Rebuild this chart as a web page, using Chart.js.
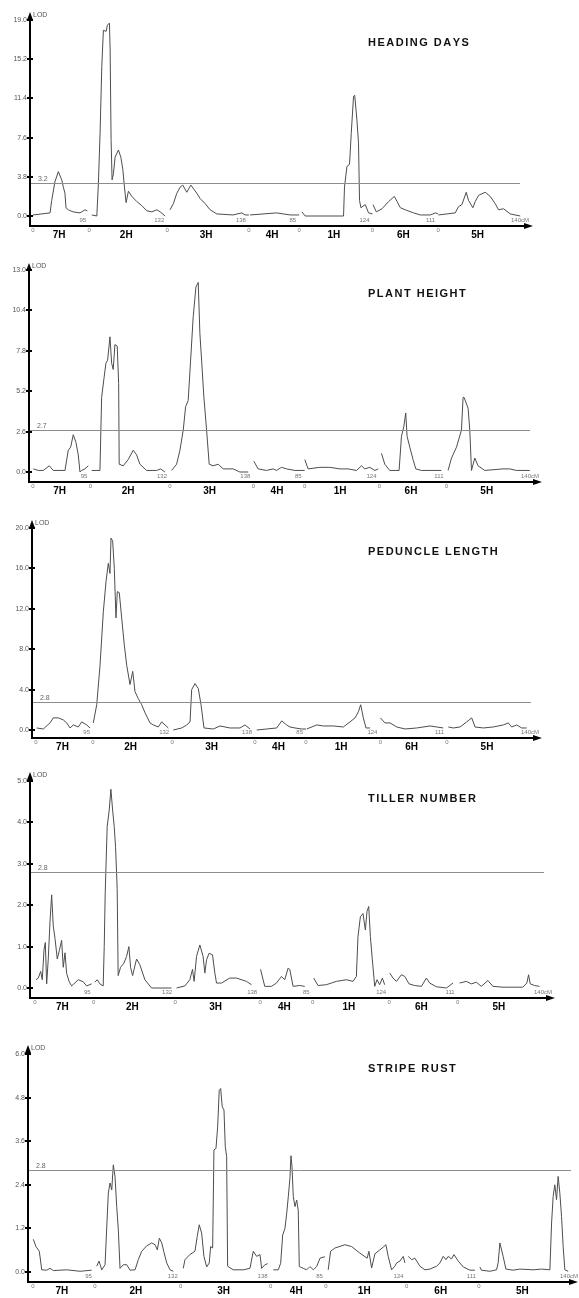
<!DOCTYPE html>
<html>
<head>
<meta charset="utf-8">
<title>QTL LOD profiles</title>
<script src="https://cdn.jsdelivr.net/npm/chart.js@4.4.0/dist/chart.umd.min.js"></script>
<style>
  html, body { margin: 0; padding: 0; background: #fff; }
  #wrap { position: relative; width: 579px; height: 1298px; overflow: hidden; }
  canvas { position: absolute; left: 0; }
</style>
</head>
<body>
<div id="wrap">
  <canvas id="c0" width="579" height="250" style="top:0px"></canvas>
  <canvas id="c1" width="579" height="255" style="top:250px"></canvas>
  <canvas id="c2" width="579" height="255" style="top:505px"></canvas>
  <canvas id="c3" width="579" height="270" style="top:760px"></canvas>
  <canvas id="c4" width="579" height="268" style="top:1030px"></canvas>
</div>
<script>
'use strict';

// linkage groups, in plotting order, and their lengths in cM
var chroms = ['7H', '2H', '3H', '4H', '1H', '6H', '5H'];
var chromLen = [95, 132, 138, 85, 124, 111, 140];
var endLabels = ['95', '132', '138', '85', '124', '111', '140cM'];

var traits = ['HEADING DAYS', 'PLANT HEIGHT', 'PEDUNCLE LENGTH', 'TILLER NUMBER', 'STRIPE RUST'];
var thresholds = [3.2, 2.7, 2.8, 2.8, 2.8];
var thresholdLabels = ['3.2', '2.7', '2.8', '2.8', '2.8'];

var yTicks = [
  [0, 3.8, 7.6, 11.4, 15.2, 19.0],
  [0, 2.6, 5.2, 7.8, 10.4, 13.0],
  [0, 4, 8, 12, 16, 20],
  [0, 1, 2, 3, 4, 5],
  [0, 1.2, 2.4, 3.6, 4.8, 6.0]
];
var yTickLabels = [
  ['0.0', '3.8', '7.6', '11.4', '15.2', '19.0'],
  ['0.0', '2.6', '5.2', '7.8', '10.4', '13.0'],
  ['0.0', '4.0', '8.0', '12.0', '16.0', '20.0'],
  ['0.0', '1.0', '2.0', '3.0', '4.0', '5.0'],
  ['0.0', '1.2', '2.4', '3.6', '4.8', '6.0']
];

// [cM, LOD] per linkage group (7H, 2H, 3H, 4H, 1H, 6H, 5H)
var headingDays = [
  [[0,0.1],[28.8,0.3],[31.6,1.5],[37,3.3],[42.8,4.3],[48.6,3.5],[51.3,2.8],[54,2.2],[55.8,0.8],[59.7,0.6],[67.7,0.4],[79.5,0.3],[88,0.6],[92,0.5]],
  [[4.4,0.1],[12.9,0.0],[15.6,3.2],[18.4,8.0],[21.3,14.5],[24,18.0],[28.6,17.9],[30.8,18.5],[34.2,18.7],[35.4,16.1],[37,7.4],[38.7,3.5],[41,4.1],[43.8,5.7],[49.4,6.4],[53.5,5.7],[56.9,4.5],[59.6,2.8],[62.4,1.3],[66.3,2.4],[72.1,1.9],[80.5,1.4],[89,1.0],[97.5,0.5],[105.9,0.4],[114.4,0.6],[120,0.4],[128.4,0.0]],
  [[4.7,0.6],[10.3,1.2],[16.1,2.2],[21.7,2.8],[26.2,3.0],[33,2.3],[39.8,3.0],[50,2.2],[55.5,1.7],[64,1.2],[72.4,0.6],[83.8,0.2],[111,0.1],[126,0.3],[131.6,0.1],[138,0.1]],
  [[2,0.1],[47,0.3],[58,0.2],[70,0.1],[85,0.1]],
  [[4.6,0.4],[10.2,0.0],[75,0.0],[76.6,2.8],[80.7,4.8],[85.1,5.0],[88,8.0],[91.9,11.6],[93.9,11.7],[97.6,9.3],[100.3,7.1],[102,1.5],[104.4,0.8],[111.7,1.1],[117.3,0.3],[124,0.2]],
  [[0.8,1.1],[6.4,0.4],[16,0.7],[27.2,1.4],[36.9,1.9],[41.5,1.4],[47,0.8],[55.5,0.6],[69.5,0.3],[80.9,0.1],[97.8,0.1],[106.3,0.3],[111,0.2]],
  [[0.5,0.1],[28.8,0.3],[34.3,0.9],[40.1,1.1],[47.4,2.3],[51.3,1.5],[58.7,0.8],[62.6,1.4],[68.2,2.0],[79.5,2.3],[88,1.9],[96.4,1.2],[102,0.6],[110.5,0.7],[121.8,0.2],[138.7,0.0]]
];

var plantHeight = [
  [[0.5,0.2],[8.8,0.1],[17,0.1],[27,0.4],[33.6,0.1],[53,0.1],[58.4,1.4],[62.4,1.6],[66.7,2.4],[71.2,1.9],[75,1.1],[77.8,0.0],[80.6,0.1],[86,0.2],[91.6,0.4]],
  [[2.2,0.1],[15.9,0.1],[18.7,4.8],[22.5,6.0],[25.8,7.0],[28.6,7.2],[32.5,8.7],[35.3,7.0],[37.9,6.6],[40.7,8.2],[44.5,8.1],[46.9,5.7],[47.8,0.5],[54.5,0.4],[62.7,0.8],[71,1.4],[76.7,1.1],[82.1,0.5],[93.2,0.1],[109.8,0.1],[116.4,0.2],[123.5,0.0]],
  [[2.6,0.1],[10.9,0.5],[16.4,1.4],[21.9,2.7],[25.8,4.2],[30.1,4.6],[34.1,7.2],[38.4,10.0],[42.9,11.9],[46.7,12.2],[49.5,8.9],[52.3,7.2],[56.1,4.8],[60.6,2.7],[64.9,0.5],[71.5,0.4],[79.8,0.5],[88,0.2],[104.6,0.2],[115.7,0.0],[129.5,0.0]],
  [[0.8,0.7],[7.9,0.2],[21.9,0.1],[32.8,0.2],[38.4,0.1],[46.7,0.3],[55,0.2],[68.7,0.1],[85,0.1]],
  [[0.3,0.8],[5.8,0.2],[25.2,0.3],[41.7,0.3],[58.3,0.2],[72,0.2],[85.9,0.1],[94.2,0.4],[99.7,0.2],[108,0.3],[116.2,0.1],[122,0.2]],
  [[3.3,1.2],[8.8,0.5],[17,0.1],[32.5,0.1],[36.4,2.3],[40.2,2.9],[43.5,3.8],[45.7,2.3],[50.2,1.6],[55.6,0.8],[60.1,0.2],[69.5,0.1],[102.6,0.1]],
  [[2.6,0.1],[8.3,0.9],[16.6,1.6],[24.8,2.7],[27.5,4.8],[29.1,4.8],[32,4.5],[35.8,4.1],[38.6,2.7],[41.4,0.1],[46.9,0.9],[52.3,0.4],[63.4,0.1],[93.7,0.2],[104.8,0.2],[115.9,0.1],[126.8,0.1],[138,0.1]]
];

var peduncleLength = [
  [[1.2,0.2],[12.2,0.1],[23.3,0.7],[28.8,1.2],[37.2,1.2],[45.5,1.0],[51.2,0.7],[56.7,0.2],[62.2,0.5],[70.5,0.3],[76.2,0.8],[84.5,0.5],[90,0.2]],
  [[0.5,0.7],[6.2,2.5],[11.7,6.4],[17.2,11.7],[21.7,14.7],[25.5,16.5],[28.3,15.5],[30,19.0],[32.8,18.7],[35.5,16.0],[38.3,11.1],[40.5,13.7],[43.8,13.6],[47.8,11.1],[52.2,8.4],[56.2,6.4],[61.7,4.5],[66.2,5.8],[70,3.8],[75.5,3.1],[81.2,2.5],[86.7,1.7],[95,0.7],[100.5,0.5],[108.8,0.3],[114.5,0.8],[120,0.5],[125.5,0.2]],
  [[1.8,0.0],[15.8,0.2],[24.2,0.5],[29.7,0.8],[32.5,4.0],[38,4.6],[43.5,4.1],[48,2.5],[53,0.2],[68.5,0.1],[79.7,0.4],[96.3,0.2],[113,0.2],[121.3,0.5],[129.7,0.1]],
  [[2.8,0.0],[19.5,0.1],[36.2,0.2],[44.5,0.9],[52.8,0.5],[58.3,0.3],[66.7,0.2],[77.8,0.1],[85,0.1]],
  [[1.2,0.1],[17.8,0.5],[28.8,0.4],[45.5,0.4],[62.2,0.3],[73.3,0.8],[81.7,1.2],[87.2,1.8],[91.2,2.5],[95.5,1.2],[100,0.2],[106.7,0.2]],
  [[0,1.2],[7.7,0.7],[16,0.7],[27.2,0.3],[41,0.1],[60.5,0.2],[82.7,0.4],[93.8,0.3],[104.8,0.2]],
  [[2.2,0.3],[10.5,0.2],[21.7,0.3],[32.8,0.8],[41.2,1.2],[46.7,0.3],[60.5,0.2],[77.2,0.3],[93.8,0.5],[102.2,0.7],[107.8,0.3],[116.2,0.5],[124.5,0.2],[132.8,0.2]]
];

var tillerNumber = [
  [[1.6,0.2],[5.3,0.24],[9.2,0.4],[11.8,0.2],[14.6,0.92],[16.7,1.1],[18.9,0.1],[21.5,0.7],[24.3,1.6],[27,2.25],[29.6,1.5],[32.4,1.2],[36.1,0.7],[39.4,0.9],[43.2,1.15],[45.8,0.5],[48.6,0.85],[51.3,0.35],[55.5,0.15],[59.4,0.05],[70.1,0.2],[78.2,0.15],[83.7,0.05],[91.8,0.1]],
  [[2.1,0.14],[5.8,0.2],[10.2,0.1],[15.5,0.05],[17.2,1.0],[18.8,2.3],[22,3.9],[25.3,4.3],[28,4.8],[30.8,4.3],[33.4,3.9],[35.6,3.4],[38.2,2.4],[39.8,0.3],[43.7,0.5],[49.1,0.6],[53.4,0.76],[57.2,1.0],[59.9,0.5],[63.2,0.3],[69.6,0.7],[75,0.56],[83.1,0.2],[93.9,0.0],[126.3,0.0]],
  [[2.4,0.0],[15.9,0.05],[24,0.2],[28.3,0.45],[30.9,0.16],[34.8,0.76],[40.2,1.04],[45.5,0.76],[48.3,0.36],[51,0.68],[55.2,0.84],[60.7,0.8],[64.5,0.36],[67.2,0.12],[75.3,0.12],[88.7,0.24],[99.6,0.24],[115.8,0.16],[123.9,0.08]],
  [[0.5,0.45],[7.4,0.04],[18.3,0.04],[26.4,0.12],[34.5,0.28],[39.8,0.2],[45.2,0.48],[47.9,0.45],[53.3,0.04],[64.1,0.06],[72.2,0.04]],
  [[1.8,0.24],[8.7,0.06],[22.3,0.08],[38.5,0.16],[54.7,0.2],[65.4,0.16],[70.9,0.28],[73.5,1.24],[77.4,1.72],[81.6,1.8],[85.5,1.4],[88.1,1.85],[90.9,1.97],[93.6,1.24],[96.8,0.68],[100.6,0.04],[104.3,0.2],[108.7,0.08],[113,0.24],[116.8,0.08]],
  [[1,0.36],[6.3,0.24],[11.8,0.16],[19.9,0.32],[25.3,0.28],[32.2,0.1],[41.5,0.06],[52.3,0.04],[60.4,0.24],[65.7,0.12],[76.6,0.03],[92.8,0.0],[103.5,0.12]],
  [[3.2,0.12],[14.1,0.16],[22.2,0.1],[30.3,0.14],[38.4,0.04],[49.1,0.18],[57.2,0.04],[73.4,0.02],[105.7,0.02],[112.2,0.12],[115,0.32],[117.7,0.1],[124.7,0.06],[132.8,0.04]]
];

var stripeRust = [
  [[0.5,0.9],[4.6,0.7],[9.7,0.57],[13.4,0.06],[21,0.05],[26.1,0.1],[31.2,0.04],[51.8,0.06],[72.2,0.02],[90.2,0.05]],
  [[2.9,0.16],[6.5,0.3],[10.6,0.06],[15.7,0.2],[17.2,0.8],[20.7,2.17],[23.3,2.45],[26,2.26],[28.4,2.95],[31,2.63],[33.6,1.8],[36.1,1.16],[38.7,0.1],[43.8,0.2],[49,0.2],[54.1,0.05],[61.8,0.06],[66.8,0.34],[72,0.57],[79.7,0.72],[87.4,0.8],[92.5,0.75],[96,0.61],[99.1,0.93],[102.8,0.8],[106.3,0.54],[110.4,0.25],[115.5,0.06],[120.6,0.02]],
  [[3.8,0.1],[6.5,0.34],[14.1,0.48],[21.8,0.57],[25.3,0.98],[28.4,1.3],[32.1,1.07],[35.6,0.43],[39.8,0.14],[43.8,0.25],[45.9,0.7],[49,0.66],[51,3.36],[54.1,3.4],[56.7,4.0],[59.1,5.0],[61.3,5.05],[63.7,4.55],[66.4,4.46],[68.4,3.45],[70.5,3.18],[72,0.16],[80.6,0.06],[96,0.06],[106.3,0.1],[111.4,0.57],[116.6,0.43],[121.7,0.48],[124.3,0.1],[129.3,0.2],[133.5,0.23]],
  [[4.1,0.06],[11.8,0.06],[15.5,0.24],[18.6,1.02],[22.1,1.2],[24.7,1.6],[27.2,2.07],[29.8,2.6],[31.3,3.2],[32.9,2.9],[34.9,2.07],[37.5,1.8],[40.1,1.98],[42.5,1.7],[44.1,0.15],[50.2,0.1],[55.5,0.06],[60.5,0.15],[65.6,0.06],[70.8,0.15],[75.9,0.38],[83.5,0.42]],
  [[3.5,0.06],[7.2,0.57],[13.8,0.66],[29.2,0.75],[39.5,0.7],[52.2,0.52],[63.4,0.38],[66.1,0.57],[70.2,0.11],[75.3,0.5],[82.9,0.61],[89.1,0.7],[92.2,0.75],[95.7,0.43],[100.9,0.06],[106,0.16],[108.6,0.25],[113.7,0.3],[118.8,0.43],[121.4,0.25]],
  [[2.5,0.43],[7.7,0.34],[12.7,0.38],[20.4,0.16],[28.1,0.06],[35.8,0.08],[46.1,0.16],[51.2,0.25],[56.2,0.43],[60.4,0.34],[63.9,0.43],[69.1,0.36],[72.7,0.48],[79.3,0.3],[87,0.14],[97.2,0.05],[104.9,0.05]],
  [[1.5,0.14],[4.1,0.05],[16.9,0.02],[27.2,0.06],[29.6,0.25],[32.3,0.8],[37.3,0.43],[41.5,0.08],[52.7,0.05],[63,0.08],[83.4,0.06],[96.3,0.08],[109.1,0.06],[111.7,1.35],[114.1,2.08],[116.7,2.4],[119.3,1.99],[121.8,2.63],[124.4,2.17],[127,1.53],[129.5,0.7],[132.1,0.06],[137.2,0.02]]
];

var traitData = [headingDays, plantHeight, peduncleLength, tillerNumber, stripeRust];

// pixel layout of each panel (canvas-local)
var panels = [
  { h: 250, axisX: 30, x0: 33, x1: 521, yTop: 20, y0: 216, axisY: 226, arrowTop: 12, arrowEnd: 533, threshEnd: 520, titleY: 43 },
  { h: 255, axisX: 29, x0: 33, x1: 531, yTop: 20, y0: 222, axisY: 232, arrowTop: 13, arrowEnd: 542, threshEnd: 530, titleY: 44 },
  { h: 255, axisX: 32, x0: 36, x1: 531, yTop: 23, y0: 225, axisY: 233, arrowTop: 15, arrowEnd: 542, threshEnd: 531, titleY: 47 },
  { h: 270, axisX: 30, x0: 35, x1: 544, yTop: 21, y0: 228, axisY: 238, arrowTop: 12, arrowEnd: 555, threshEnd: 544, titleY: 39 },
  { h: 268, axisX: 28, x0: 33, x1: 570, yTop: 24, y0: 242, axisY: 252, arrowTop: 15, arrowEnd: 578, threshEnd: 571, titleY: 39 }
];

var FONT = '"Liberation Sans", Arial, sans-serif';

var offsets = [];
var acc = 0;
chromLen.forEach(function (len) { offsets.push(acc); acc += len; });
var totalLen = acc;

// draws text one glyph at a time with extra spacing (the titles are tracked out)
function spacedText(ctx, text, x, y, gap) {
  for (var n = 0; n < text.length; n++) {
    ctx.fillText(text[n], x, y);
    x += ctx.measureText(text[n]).width + gap;
  }
}

function makeDecor(i) {
  var L = panels[i];
  return {
    id: 'decor' + i,
    afterDraw: function (chart) {
      var ctx = chart.ctx;
      var xs = chart.scales.x;
      var ys = chart.scales.y;
      ctx.save();

      // significance threshold
      var ty = Math.round(ys.getPixelForValue(thresholds[i])) + 0.5;
      ctx.strokeStyle = '#8c8c8c';
      ctx.lineWidth = 1;
      ctx.beginPath();
      ctx.moveTo(L.axisX, ty);
      ctx.lineTo(L.threshEnd, ty);
      ctx.stroke();
      ctx.fillStyle = '#666';
      ctx.font = '7px ' + FONT;
      ctx.textAlign = 'left';
      ctx.textBaseline = 'bottom';
      ctx.fillText(thresholdLabels[i], L.axisX + 8, ty - 1);

      // axes
      ctx.strokeStyle = '#000';
      ctx.lineWidth = 2;
      ctx.beginPath();
      ctx.moveTo(L.axisX, L.axisY);
      ctx.lineTo(L.axisX, L.arrowTop + 5);
      ctx.moveTo(L.axisX - 1, L.axisY);
      ctx.lineTo(L.arrowEnd - 6, L.axisY);
      ctx.stroke();
      ctx.fillStyle = '#000';
      ctx.beginPath();
      ctx.moveTo(L.axisX, L.arrowTop);
      ctx.lineTo(L.axisX - 3, L.arrowTop + 8);
      ctx.lineTo(L.axisX + 3, L.arrowTop + 8);
      ctx.closePath();
      ctx.fill();
      ctx.beginPath();
      ctx.moveTo(L.arrowEnd, L.axisY);
      ctx.lineTo(L.arrowEnd - 9, L.axisY - 3);
      ctx.lineTo(L.arrowEnd - 9, L.axisY + 3);
      ctx.closePath();
      ctx.fill();

      // y ticks
      ctx.font = '7px ' + FONT;
      ctx.textAlign = 'right';
      ctx.textBaseline = 'middle';
      yTicks[i].forEach(function (v, k) {
        var py = Math.round(ys.getPixelForValue(v));
        ctx.fillStyle = '#000';
        ctx.fillRect(L.axisX - 3, py - 1, 6, 2);
        ctx.fillStyle = '#555';
        ctx.fillText(yTickLabels[i][k], L.axisX - 3, py);
      });
      ctx.fillStyle = '#555';
      ctx.textAlign = 'left';
      ctx.fillText('LOD', L.axisX + 3, L.arrowTop + 3);

      // linkage group labels
      chroms.forEach(function (name, k) {
        var sx = xs.getPixelForValue(offsets[k]);
        var ex = xs.getPixelForValue(offsets[k] + chromLen[k]);
        ctx.fillStyle = '#777';
        ctx.font = '6px ' + FONT;
        ctx.textAlign = 'center';
        ctx.textBaseline = 'middle';
        ctx.fillText('0', sx, L.axisY + 4);
        ctx.textAlign = 'right';
        ctx.fillText(endLabels[k], k === chroms.length - 1 ? ex + 8 : ex - 3, L.axisY - 6);
        ctx.fillStyle = '#000';
        ctx.font = 'bold 10px ' + FONT;
        ctx.textAlign = 'center';
        ctx.fillText(name, (sx + ex) / 2 - 2, L.axisY + 9);
      });

      // trait title
      ctx.fillStyle = '#111';
      ctx.font = 'bold 11px ' + FONT;
      ctx.textAlign = 'left';
      ctx.textBaseline = 'middle';
      spacedText(ctx, traits[i], 368, L.titleY, 1.5);

      ctx.restore();
    }
  };
}

traitData.forEach(function (trait, i) {
  var L = panels[i];
  var datasets = trait.map(function (pts, k) {
    return {
      label: chroms[k],
      data: pts.map(function (p) { return { x: offsets[k] + p[0], y: p[1] }; }),
      borderColor: '#4d4d4d',
      borderWidth: 1,
      pointRadius: 0,
      tension: 0,
      fill: false,
      clip: false
    };
  });
  new Chart(document.getElementById('c' + i), {
    type: 'line',
    data: { datasets: datasets },
    options: {
      responsive: false,
      animation: false,
      devicePixelRatio: 1,
      events: [],
      layout: {
        padding: { left: L.x0, right: 579 - L.x1, top: L.yTop, bottom: L.h - L.y0 }
      },
      scales: {
        x: { type: 'linear', min: 0, max: totalLen, display: false },
        y: { type: 'linear', min: 0, max: yTicks[i][yTicks[i].length - 1], display: false }
      },
      plugins: { legend: { display: false }, title: { display: false }, tooltip: { enabled: false } }
    },
    plugins: [makeDecor(i)]
  });
});
</script>
</body>
</html>
